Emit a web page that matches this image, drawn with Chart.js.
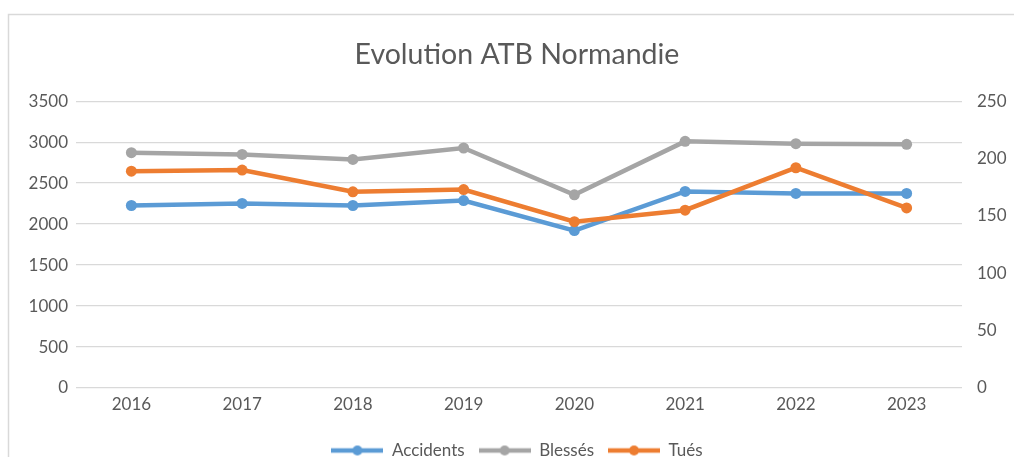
<!DOCTYPE html>
<html>
<head>
<meta charset="utf-8">
<script src="https://cdn.jsdelivr.net/npm/chart.js@4.4.1/dist/chart.umd.min.js"></script>
<style>
  html, body { margin: 0; padding: 0; background: #ffffff; }
  #wrap { position: relative; width: 1014px; height: 457px; }
</style>
</head>
<body>
<div id="wrap"><canvas id="c" width="1014" height="457"></canvas></div>
<script>
const years = ['2016', '2017', '2018', '2019', '2020', '2021', '2022', '2023'];
const accidents = [2227, 2252, 2227, 2288, 1921, 2399, 2374, 2374];
const blesses = [2872, 2851, 2790, 2929, 2358, 3010, 2982, 2974];
const tues = [189, 190, 171, 173, 145, 155, 192, 157];
const leftTicks = [0, 500, 1000, 1500, 2000, 2500, 3000, 3500];
const rightTicks = [0, 50, 100, 150, 200, 250];

const seriesNames = ['Accidents', 'Blessés', 'Tués'];
const seriesColors = ['#5B9BD5', '#A5A5A5', '#ED7D31'];
const textColor = '#595959';
const fontFamily = 'Lato, "Open Sans", sans-serif';

function legendIcon(color) {
  const cv = document.createElement('canvas');
  cv.width = 52; cv.height = 12;
  const g = cv.getContext('2d');
  g.strokeStyle = color; g.lineWidth = 4.5;
  g.beginPath(); g.moveTo(0, 6); g.lineTo(52, 6); g.stroke();
  g.fillStyle = color;
  g.beginPath(); g.arc(26, 6, 5, 0, Math.PI * 2); g.fill();
  return cv;
}
const icons = seriesColors.map(legendIcon);

const borderPlugin = {
  id: 'outerBorder',
  beforeDraw(chart) {
    const ctx = chart.ctx;
    ctx.save();
    ctx.fillStyle = '#ffffff';
    ctx.fillRect(0, 0, chart.width, chart.height);
    ctx.strokeStyle = '#d9d9d9';
    ctx.lineWidth = 1.5;
    ctx.strokeRect(8.5, 14.5, 1100, 500);
    ctx.restore();
  }
};

function mkDataset(i, data, axis) {
  return {
    label: seriesNames[i],
    data: data,
    yAxisID: axis,
    borderColor: seriesColors[i],
    backgroundColor: seriesColors[i],
    borderWidth: 4.5,
    pointRadius: 5.5,
    pointHoverRadius: 5.5,
    pointBorderWidth: 0,
    pointStyle: 'circle',
    tension: 0,
    fill: false,
    order: 3 - i
  };
}

const plainTick = (v) => String(v);

new Chart(document.getElementById('c'), {
  type: 'line',
  data: {
    labels: years,
    datasets: [
      mkDataset(0, accidents, 'yL'),
      mkDataset(1, blesses, 'yL'),
      mkDataset(2, tues, 'yR')
    ]
  },
  plugins: [borderPlugin],
  options: {
    responsive: false,
    animation: false,
    devicePixelRatio: 1,
    layout: { padding: { left: 20, right: 0, top: 0, bottom: -12 } },
    plugins: {
      title: {
        display: true,
        text: 'Evolution ATB Normandie',
        color: textColor,
        font: { family: fontFamily, size: 28.5, weight: 'normal' },
        padding: { top: 38, bottom: 29 }
      },
      legend: {
        display: true,
        position: 'bottom',
        labels: {
          color: textColor,
          font: { family: fontFamily, size: 17 },
          usePointStyle: true,
          pointStyleWidth: 52,
          padding: 14,
          generateLabels(chart) {
            return seriesNames.map((n, i) => ({
              text: n,
              fillStyle: seriesColors[i],
              strokeStyle: seriesColors[i],
              fontColor: textColor,
              lineWidth: 0,
              pointStyle: icons[i],
              hidden: false,
              datasetIndex: i
            }));
          }
        }
      },
      tooltip: { enabled: false }
    },
    scales: {
      x: {
        type: 'category',
        offset: true,
        grid: { display: false, drawTicks: false },
        border: { display: false },
        ticks: { color: textColor, font: { family: fontFamily, size: 17 }, padding: 6, maxRotation: 0 },
        afterFit(s) { s.height = 40; }
      },
      yL: {
        type: 'linear',
        position: 'left',
        min: 0, max: 3500,
        afterBuildTicks(s) { s.ticks = leftTicks.map(v => ({ value: v })); },
        grid: { color: '#d9d9d9', lineWidth: 1.3, drawTicks: false },
        border: { display: false },
        ticks: { color: textColor, font: { family: fontFamily, size: 17 }, padding: 8, callback: plainTick },
        afterFit(s) { s.width = 56; }
      },
      yR: {
        type: 'linear',
        position: 'right',
        min: 0, max: 250,
        afterBuildTicks(s) { s.ticks = rightTicks.map(v => ({ value: v })); },
        grid: { display: false, drawTicks: false },
        border: { display: false },
        ticks: { color: textColor, font: { family: fontFamily, size: 17 }, padding: 15, callback: plainTick },
        afterFit(s) { s.width = 52; }
      }
    }
  }
});
</script>
</body>
</html>
